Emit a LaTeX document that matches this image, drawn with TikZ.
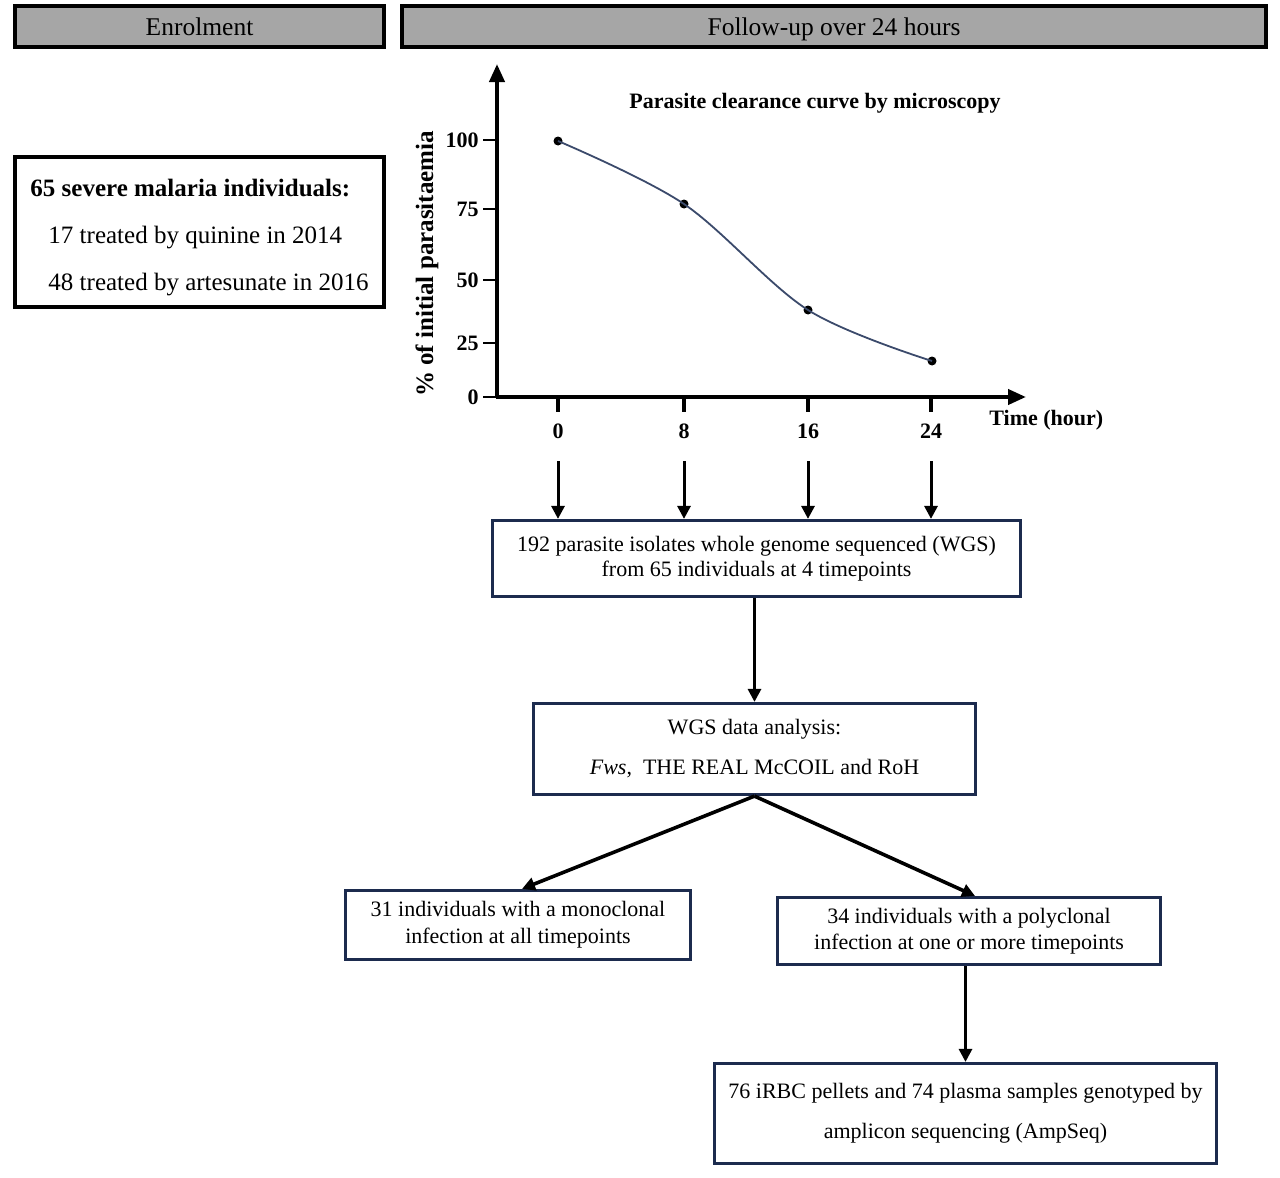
\documentclass[tikz,border=0pt]{standalone}
\usepackage{fontspec}
\setmainfont{Liberation Serif}
\usetikzlibrary{arrows.meta}
\definecolor{navy}{HTML}{1C2B4E}
\definecolor{hdr}{HTML}{A6A6A6}
\definecolor{curvec}{HTML}{3B4A6B}
\begin{document}
\begin{tikzpicture}[x=0.5pt,y=-0.5pt,
  header/.style={draw=black, line width=2pt, fill=hdr, inner sep=0pt, minimum height=20.5pt, text height=11pt, text depth=2.5pt, font=\fontsize{12.75}{15}\selectfont},
  flowbox/.style={draw=navy, line width=1.6pt, fill=white, align=center, inner sep=0pt},
  arr/.style={line width=1.5pt, -{Triangle[length=6.5pt,width=6.5pt]}},
  axisline/.style={line width=2pt, -{Triangle[length=9pt,width=7.5pt]}},
  chartfont/.style={font=\fontsize{11}{13}\selectfont\bfseries},
  ytick/.style={line width=1pt},
  xtick/.style={line width=1.6pt},
  datadot/.style={circle, fill=black, inner sep=0pt, minimum size=4.5pt},
]
\useasboundingbox (0,0) rectangle (1280,1178);

% headers
\node[header, minimum width=184.5pt] (hEnrol) at (199.5,26.5) {Enrolment};
\node[header, minimum width=432pt] (hFollow) at (834,26.5) {Follow-up over 24 hours};

% enrolment box
\node[draw=black, line width=2pt, inner sep=0pt,
      minimum width=184.5pt, minimum height=75pt, align=left, font=\fontsize{12.5}{23.5}\selectfont]
  (enrol) at (199.5,232)
  {\rule{0pt}{14pt}\textbf{65 severe malaria individuals:}\\
   \hspace*{9pt}17 treated by quinine in 2014\\
   \hspace*{9pt}48 treated by artesunate in 2016};

% chart axes
\coordinate (origin) at (497,397);
\coordinate (ytop) at (497,64);
\coordinate (xend) at (1026,397);
\draw[axisline] (497,398) -- (ytop);
\draw[axisline] (496,397) -- (xend);

% y ticks and labels
\foreach \v/\yy in {100/140, 75/209, 50/280, 25/343, 0/397} {
  \draw[ytick] (483,\yy) -- (497,\yy);
  \node[chartfont, anchor=east, inner sep=0pt] (yl\v) at (479,\yy) {\v};
}
% x ticks and labels
\foreach \v/\xx in {0/558, 8/684, 16/808, 24/931} {
  \draw[xtick] (\xx,397) -- (\xx,412);
  \node[chartfont, inner sep=0pt] (xl\v) at (\xx,431) {\v};
  \coordinate (t\v) at (\xx,461);
}

\node[font=\fontsize{12.5}{15}\selectfont\bfseries, rotate=90] (ylab) at (427,264) {\% of initial parasitaemia};
\node[chartfont, anchor=west, inner sep=0pt] (xlab) at (989,420) {Time (hour)};
\node[chartfont, inner sep=0pt] (title) at (815,103) {Parasite clearance curve by microscopy};

% data
\node[datadot] (p0) at (558,141) {};
\node[datadot] (p1) at (684,204) {};
\node[datadot] (p2) at (808,310) {};
\node[datadot] (p3) at (932,361) {};
\draw[curvec, line width=0.9pt] plot[smooth, tension=0.55] coordinates {(p0) (p1) (p2) (p3)};

% flow boxes
\node[flowbox, minimum width=264pt, minimum height=38pt, font=\fontsize{11}{12.5}\selectfont] (wgs) at (756.5,558.5)
  {192 parasite isolates whole genome sequenced (WGS)\\from 65 individuals at 4 timepoints};
\node[flowbox, minimum width=221pt, minimum height=45.5pt, font=\fontsize{11}{20}\selectfont] (ana) at (754.5,749)
  {WGS data analysis:\\\textit{Fws},\ \ THE REAL McCOIL and RoH};
\node[flowbox, minimum width=172.5pt, minimum height=34.5pt, font=\fontsize{11}{13.5}\selectfont] (mono) at (518,925)
  {31 individuals with a monoclonal\\infection at all timepoints};
\node[flowbox, minimum width=191.5pt, minimum height=33.5pt, font=\fontsize{11}{13}\selectfont] (poly) at (969,931)
  {34 individuals with a polyclonal\\infection at one or more timepoints};
\node[flowbox, minimum width=251pt, minimum height=50pt, font=\fontsize{11}{20}\selectfont] (amp) at (965.5,1113.5)
  {76 iRBC pellets and 74 plasma samples genotyped by\\amplicon sequencing (AmpSeq)};

% arrows
\foreach \v in {0,8,16,24} {
  \draw[arr] (t\v) -- (t\v |- wgs.north);
}
\draw[arr] (wgs.south -| ana.north) -- (ana.north);
\draw[arr, line width=1.8pt] (ana.south) -- ([xshift=2pt]mono.north);
\draw[arr, line width=1.8pt] (ana.south) -- ([xshift=3pt]poly.north);
\draw[arr] (amp.north |- poly.south) -- (amp.north);
\end{tikzpicture}
\end{document}
